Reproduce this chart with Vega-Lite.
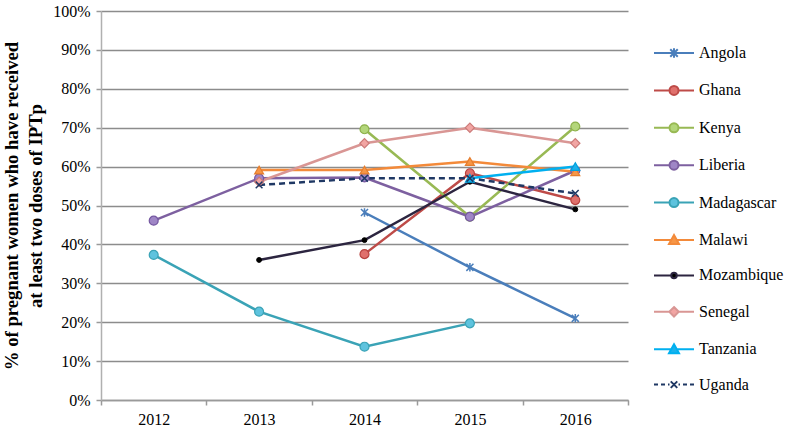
{
  "$schema": "https://vega.github.io/schema/vega-lite/v6.json",
  "width": 527,
  "height": 389,
  "autosize": {"type": "none"},
  "padding": {"left": 101, "top": 11, "right": 169, "bottom": 31},
  "background": "white",
  "config": {
    "font": "Liberation Serif",
    "view": {"stroke": null}
  },
  "data": {
    "values": [
      {"country": "Angola", "year": "2014", "value": 0.482},
      {"country": "Angola", "year": "2015", "value": 0.341},
      {"country": "Angola", "year": "2016", "value": 0.21},
      {"country": "Ghana", "year": "2014", "value": 0.375},
      {"country": "Ghana", "year": "2015", "value": 0.583},
      {"country": "Ghana", "year": "2016", "value": 0.514},
      {"country": "Kenya", "year": "2014", "value": 0.696},
      {"country": "Kenya", "year": "2015", "value": 0.471},
      {"country": "Kenya", "year": "2016", "value": 0.703},
      {"country": "Liberia", "year": "2012", "value": 0.461},
      {"country": "Liberia", "year": "2013", "value": 0.57},
      {"country": "Liberia", "year": "2014", "value": 0.572},
      {"country": "Liberia", "year": "2015", "value": 0.471},
      {"country": "Liberia", "year": "2016", "value": 0.59},
      {"country": "Madagascar", "year": "2012", "value": 0.373},
      {"country": "Madagascar", "year": "2013", "value": 0.227},
      {"country": "Madagascar", "year": "2014", "value": 0.137},
      {"country": "Madagascar", "year": "2015", "value": 0.197},
      {"country": "Malawi", "year": "2013", "value": 0.591},
      {"country": "Malawi", "year": "2014", "value": 0.591},
      {"country": "Malawi", "year": "2015", "value": 0.613},
      {"country": "Malawi", "year": "2016", "value": 0.587},
      {"country": "Mozambique", "year": "2013", "value": 0.36},
      {"country": "Mozambique", "year": "2014", "value": 0.411},
      {"country": "Mozambique", "year": "2015", "value": 0.561},
      {"country": "Mozambique", "year": "2016", "value": 0.49},
      {"country": "Senegal", "year": "2013", "value": 0.561},
      {"country": "Senegal", "year": "2014", "value": 0.66},
      {"country": "Senegal", "year": "2015", "value": 0.70},
      {"country": "Senegal", "year": "2016", "value": 0.66},
      {"country": "Tanzania", "year": "2015", "value": 0.57},
      {"country": "Tanzania", "year": "2016", "value": 0.60},
      {"country": "Uganda", "year": "2013", "value": 0.553},
      {"country": "Uganda", "year": "2014", "value": 0.57},
      {"country": "Uganda", "year": "2015", "value": 0.57},
      {"country": "Uganda", "year": "2016", "value": 0.531}
    ]
  },
  "encoding": {
    "x": {
      "field": "year",
      "type": "ordinal",
      "bandPosition": 0.5,
      "scale": {"type": "band", "paddingInner": 0, "paddingOuter": 0, "domain": ["2012", "2013", "2014", "2015", "2016"]},
      "axis": {
        "title": null,
        "labelAngle": 0,
        "labelFont": "Liberation Serif",
        "labelFontSize": 16,
        "labelColor": "#000000",
        "labelPadding": 6,
        "tickBand": "extent",
        "tickSize": 5,
        "tickColor": "#9a9a9a",
        "tickWidth": 1.5,
        "domainColor": "#9a9a9a",
        "domainWidth": 1.5,
        "grid": false
      }
    },
    "y": {
      "field": "value",
      "type": "quantitative",
      "scale": {"domain": [0, 1], "nice": false},
      "axis": {
        "title": ["% of pregnant women who have received", "at least two doses of IPTp"],
        "titleFont": "Liberation Serif",
        "titleFontSize": 18.7,
        "titleFontWeight": "bold",
        "titleColor": "#000000",
        "titleLineHeight": 24,
        "titleX": -80,
        "values": [0, 0.1, 0.2, 0.3, 0.4, 0.5, 0.6, 0.7, 0.8, 0.9, 1],
        "format": ".0%",
        "labelFont": "Liberation Serif",
        "labelFontSize": 16,
        "labelColor": "#000000",
        "labelPadding": 6,
        "tickSize": 5,
        "tickColor": "#9a9a9a",
        "tickWidth": 1.5,
        "domainColor": "#b0b0b0",
        "domainWidth": 1.5,
        "grid": true,
        "gridColor": "#8c8c8c",
        "gridWidth": 1.5
      }
    }
  },
  "layer": [
    {
      "transform": [{"filter": {"not": {"field": "country", "equal": "Uganda"}}}],
      "mark": {"type": "line", "strokeWidth": 2.5},
      "encoding": {
        "color": {
          "field": "country",
          "type": "nominal",
          "scale": {
            "domain": ["Angola", "Ghana", "Kenya", "Liberia", "Madagascar", "Malawi", "Mozambique", "Senegal", "Tanzania", "Uganda"],
            "range": ["#4A7EBB", "#BE4B48", "#98B954", "#7D60A0", "#3AA3B6", "#F38A3A", "#2C2540", "#D99694", "#00B0F0", "#1F3864"]
          },
          "legend": {
            "title": null,
            "orient": "none",
            "legendX": 565,
            "legendY": 34,
            "padding": 0,
            "labelFont": "Liberation Serif",
            "labelFontSize": 16,
            "labelColor": "#000000",
            "labelOffset": 17,
            "rowPadding": 19.4,
            "symbolSize": 100,
            "symbolStrokeWidth": 2,
            "symbolOpacity": 1,
            "encode": {
              "symbols": {
                "update": {
                  "shape": {"signal": "{'Angola': 'M-4,0H4M-0.75,-0.75L0.75,0.75M-0.75,0.75L0.75,-0.75M0,-0.95L0,0.95', 'Ghana': 'M-4,0H-0.9M0.9,0H4M0.9,0A0.9,0.9 0 1,1 -0.9,0A0.9,0.9 0 1,1 0.9,0Z', 'Kenya': 'M-4,0H-0.9M0.9,0H4M0.9,0A0.9,0.9 0 1,1 -0.9,0A0.9,0.9 0 1,1 0.9,0Z', 'Liberia': 'M-4,0H-0.9M0.9,0H4M0.9,0A0.9,0.9 0 1,1 -0.9,0A0.9,0.9 0 1,1 0.9,0Z', 'Madagascar': 'M-4,0H-0.9M0.9,0H4M0.9,0A0.9,0.9 0 1,1 -0.9,0A0.9,0.9 0 1,1 0.9,0Z', 'Malawi': 'M-4,0H-0.5M0.5,0H4M0,-1L1,0.8L-1,0.8Z', 'Mozambique': 'M-4,0H-0.55M0.55,0H4M0.55,0A0.55,0.55 0 1,1 -0.55,0A0.55,0.55 0 1,1 0.55,0Z', 'Senegal': 'M-4,0H-0.95M0.95,0H4M0,-0.95L0.95,0L0,0.95L-0.95,0Z', 'Tanzania': 'M-4,0H-0.5M0.5,0H4M0,-1L1,0.8L-1,0.8Z', 'Uganda': 'M-4,0H-3.2M-2.6,0H-1.8M-1.2,0H-0.9M0.9,0H1.2M1.8,0H2.6M3.2,0H4M-0.65,-0.65L0.65,0.65M-0.65,0.65L0.65,-0.65'}[datum.value]"},
                  "fill": {"signal": "{'Angola': '#4A7EBB', 'Ghana': '#E0706C', 'Kenya': '#B3D67A', 'Liberia': '#9F86C6', 'Madagascar': '#5EC3DE', 'Malawi': '#F79646', 'Mozambique': '#000000', 'Senegal': '#F2A5A3', 'Tanzania': '#1AB2EC', 'Uganda': '#1F3864'}[datum.value]"},
                  "stroke": {"signal": "{'Angola': '#4A7EBB', 'Ghana': '#BE4B48', 'Kenya': '#98B954', 'Liberia': '#7D60A0', 'Madagascar': '#3AA3B6', 'Malawi': '#F38A3A', 'Mozambique': '#2C2540', 'Senegal': '#D99694', 'Tanzania': '#00B0F0', 'Uganda': '#1F3864'}[datum.value]"},
                  "size": {"value": 100},
                  "strokeWidth": {"value": 2},
                  "opacity": {"value": 1}
                }
              }
            }
          }
        }
      }
    },
    {
      "transform": [{"filter": {"field": "country", "equal": "Uganda"}}],
      "mark": {"type": "line", "strokeWidth": 2.5, "strokeDash": [6, 4]},
      "encoding": {
        "color": {"field": "country", "type": "nominal"}
      }
    },
    {
      "encoding": {
        "fill": {
          "field": "country",
          "type": "nominal",
          "scale": {
            "domain": ["Angola", "Ghana", "Kenya", "Liberia", "Madagascar", "Malawi", "Mozambique", "Senegal", "Tanzania", "Uganda"],
            "range": ["#4A7EBB", "#E0706C", "#B3D67A", "#9F86C6", "#5EC3DE", "#F79646", "#000000", "#F2A5A3", "#1AB2EC", "#1F3864"]
          },
          "legend": null
        },
        "stroke": {
          "field": "country",
          "type": "nominal",
          "scale": {
            "domain": ["Angola", "Ghana", "Kenya", "Liberia", "Madagascar", "Malawi", "Mozambique", "Senegal", "Tanzania", "Uganda"],
            "range": ["#4A7EBB", "#B8433F", "#8CB04A", "#7457A0", "#3AA3B6", "#E57E2E", "#000000", "#CC7A78", "#00A0DD", "#1F3864"]
          },
          "legend": null
        }
      },
      "layer": [
        {
          "transform": [{"filter": {"field": "country", "oneOf": ["Ghana", "Kenya", "Liberia", "Madagascar"]}}],
          "mark": {"type": "point", "shape": "circle", "filled": true, "opacity": 1, "size": 80, "strokeWidth": 1.2}
        },
        {
          "transform": [{"filter": {"field": "country", "equal": "Mozambique"}}],
          "mark": {"type": "point", "shape": "circle", "filled": true, "opacity": 1, "size": 24, "strokeWidth": 1}
        },
        {
          "transform": [{"filter": {"field": "country", "oneOf": ["Malawi", "Tanzania"]}}],
          "mark": {"type": "point", "shape": "triangle-up", "filled": true, "opacity": 1, "size": 80, "strokeWidth": 1.2}
        },
        {
          "transform": [{"filter": {"field": "country", "equal": "Senegal"}}],
          "mark": {"type": "point", "shape": "diamond", "filled": true, "opacity": 1, "size": 85, "strokeWidth": 1.2}
        },
        {
          "transform": [{"filter": {"field": "country", "equal": "Uganda"}}],
          "mark": {"type": "point", "shape": "M-1,-1L1,1M-1,1L1,-1", "filled": true, "opacity": 1, "size": 45, "strokeWidth": 1.5}
        },
        {
          "transform": [{"filter": {"field": "country", "equal": "Angola"}}],
          "mark": {"type": "point", "shape": "M-1,-1L1,1M-1,1L1,-1M0,-1.2L0,1.2", "filled": true, "opacity": 1, "size": 50, "strokeWidth": 1.5}
        }
      ]
    }
  ]
}
